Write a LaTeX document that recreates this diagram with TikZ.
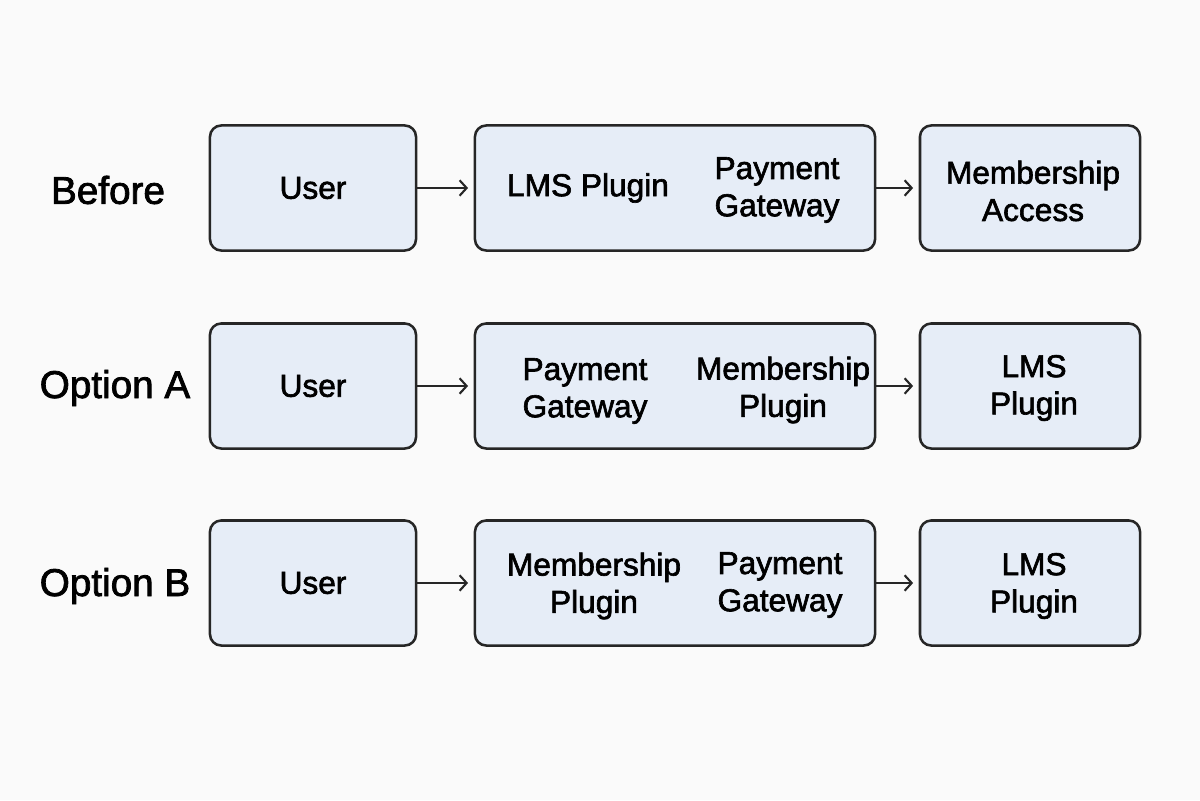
\documentclass[tikz,border=0pt]{standalone}
\usepackage{fontspec}
\setmainfont{Liberation Sans}[FakeBold=2]
\usetikzlibrary{arrows.meta}
\definecolor{boxblue}{HTML}{E6EDF7}
\definecolor{backgray}{HTML}{FAFAFA}

\begin{document}
\begin{tikzpicture}[x=0.025cm, y=-0.025cm,
    box/.style={draw=black!85, line width=1.8pt, rounded corners=8pt, fill=\colorBox, minimum height=3.125cm, inner sep=0pt},
    txt/.style={font=\fontsize{22.5}{26.5}\selectfont, align=center, inner sep=0pt},
    lbl/.style={font=\fontsize{27.5}{32}\selectfont},
    flow/.style={-{Straight Barb[length=5pt,width=11pt]}, line width=1.5pt, black!85, shorten >=4pt}]
    % Definizione colori
    \def\colorBox{boxblue}
    \def\colorBack{backgray}

    % Sfondo
    \fill[\colorBack] (0,0) rectangle (1200,800);
    \useasboundingbox (0,0) rectangle (1200,800);

    % Riga 1: Before
    \node[lbl] (lblBefore) at (108,190) {Before};
    \node[box, minimum width=5.15cm] (userBefore) at (313,188) {};
    \node[box, minimum width=10cm] (midBefore) at (675,188) {};
    \node[box, minimum width=5.5cm] (endBefore) at (1030,188) {};
    \node[txt] (userBeforeTxt) at (313,188) {User};
    \node[txt] (lmsBefore) at (588,188) {LMS Plugin};
    \node[txt] (payBefore) at (777,190) {Payment\\Gateway};
    \node[txt] (accBefore) at (1033,191) {Membership\\Access};
    \draw[flow] (userBefore) -- (midBefore);
    \draw[flow] (midBefore) -- (endBefore);

    % Riga 2: Option A
    \node[lbl] (lblOptA) at (115,388) {Option A};
    \node[box, minimum width=5.15cm] (userOptA) at (313,386) {};
    \node[box, minimum width=10cm] (midOptA) at (675,386) {};
    \node[box, minimum width=5.5cm] (endOptA) at (1030,386) {};
    \node[txt] (userOptATxt) at (313,386) {User};
    \node[txt] (payOptA) at (585,391) {Payment\\Gateway};
    \node[txt] (memOptA) at (783,390) {Membership\\Plugin};
    \node[txt] (lmsOptA) at (1034,388) {LMS\\Plugin};
    \draw[flow] (userOptA) -- (midOptA);
    \draw[flow] (midOptA) -- (endOptA);

    % Riga 3: Option B
    \node[lbl] (lblOptB) at (115,586) {Option B};
    \node[box, minimum width=5.15cm] (userOptB) at (313,583) {};
    \node[box, minimum width=10cm] (midOptB) at (675,583) {};
    \node[box, minimum width=5.5cm] (endOptB) at (1030,583) {};
    \node[txt] (userOptBTxt) at (313,583) {User};
    \node[txt] (memOptB) at (594,586) {Membership\\Plugin};
    \node[txt] (payOptB) at (780,585) {Payment\\Gateway};
    \node[txt] (lmsOptB) at (1034,586) {LMS\\Plugin};
    \draw[flow] (userOptB) -- (midOptB);
    \draw[flow] (midOptB) -- (endOptB);

\end{tikzpicture}
\end{document}
